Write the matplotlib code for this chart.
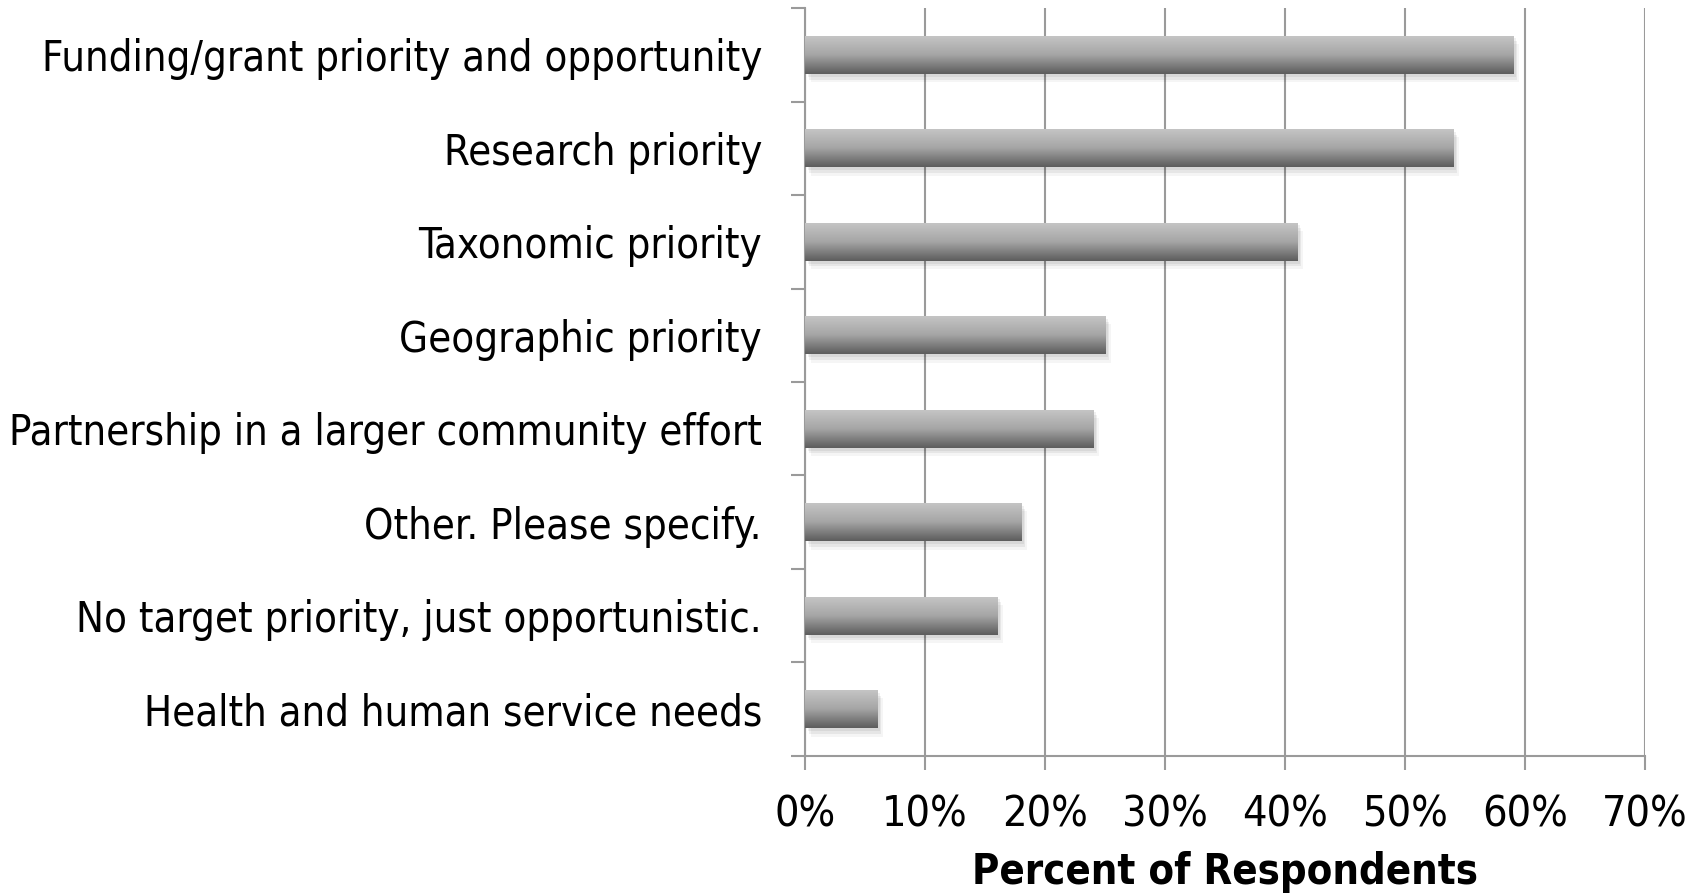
import numpy as np
import matplotlib
matplotlib.use("Agg")
import matplotlib.pyplot as plt
import matplotlib.patheffects as pe
from matplotlib.ticker import FixedLocator, PercentFormatter

# survey answers, listed top to bottom as shown
categories = [
    "Funding/grant priority and opportunity",
    "Research priority",
    "Taxonomic priority",
    "Geographic priority",
    "Partnership in a larger community effort",
    "Other. Please specify.",
    "No target priority, just opportunistic.",
    "Health and human service needs",
]
percents = [59, 54, 41, 25, 24, 18, 16, 6]
x_ticks = [0, 10, 20, 30, 40, 50, 60, 70]

plt.rcParams["font.family"] = ["DejaVu Sans"]
plt.rcParams["font.stretch"] = "condensed"

GRID = "#9a9a9a"

fig = plt.figure(figsize=(17.07, 8.94), dpi=100)
ax = fig.add_axes([0.4716, 0.1544, 0.4921, 0.8366])

ypos = np.arange(len(categories))
bars = ax.barh(ypos, percents, height=0.41, color="none", zorder=3)

# vertical gradient fill (light on top, dark at the bottom) plus a soft shadow
grad = np.linspace(0, 1, 256).reshape(-1, 1)
cmap = matplotlib.colors.LinearSegmentedColormap.from_list(
    "bar", ["#c6c6c6", "#a6a6a6", "#5c5c5c"])
for b in bars:
    x0, y0, w, h = b.get_x(), b.get_y(), b.get_width(), b.get_height()
    shadow = plt.Rectangle((x0, y0), w, h, facecolor="white", edgecolor="none", zorder=2)
    shadow.set_path_effects([
        pe.SimplePatchShadow(offset=(2, -2), shadow_rgbFace="#000000", alpha=0.06),
        pe.SimplePatchShadow(offset=(3, -4), shadow_rgbFace="#000000", alpha=0.06),
        pe.SimplePatchShadow(offset=(4, -6), shadow_rgbFace="#000000", alpha=0.04),
    ])
    ax.add_patch(shadow)
    im = ax.imshow(grad, cmap=cmap, aspect="auto", interpolation="bicubic",
                   extent=(x0, x0 + w, y0 + h, y0), zorder=4)
    im.set_clip_path(b)

ax.set_xlim(0, 70)
ax.set_ylim(len(categories) - 0.5, -0.5)

ax.xaxis.set_major_locator(FixedLocator(x_ticks))
ax.xaxis.set_major_formatter(PercentFormatter(decimals=0))
ax.grid(axis="x", color=GRID, linewidth=1.5, zorder=1)
ax.set_axisbelow(True)

ax.set_yticks(ypos)
ax.set_yticklabels(categories)
ax.yaxis.set_minor_locator(FixedLocator(np.arange(len(categories) + 1) - 0.5))

ax.tick_params(axis="y", which="major", length=0, pad=31, labelsize=30)
ax.tick_params(axis="y", which="minor", length=10, width=1.5, color=GRID)
ax.tick_params(axis="x", which="major", length=10, width=1.5, color=GRID,
               pad=17, labelsize=31)

for side in ["top", "right"]:
    ax.spines[side].set_visible(False)
for side in ["left", "bottom"]:
    ax.spines[side].set_color(GRID)
    ax.spines[side].set_linewidth(1.5)

ax.set_xlabel("Percent of Respondents", fontsize=30, fontweight="bold", labelpad=11)

fig.savefig("out.png", dpi=100)
